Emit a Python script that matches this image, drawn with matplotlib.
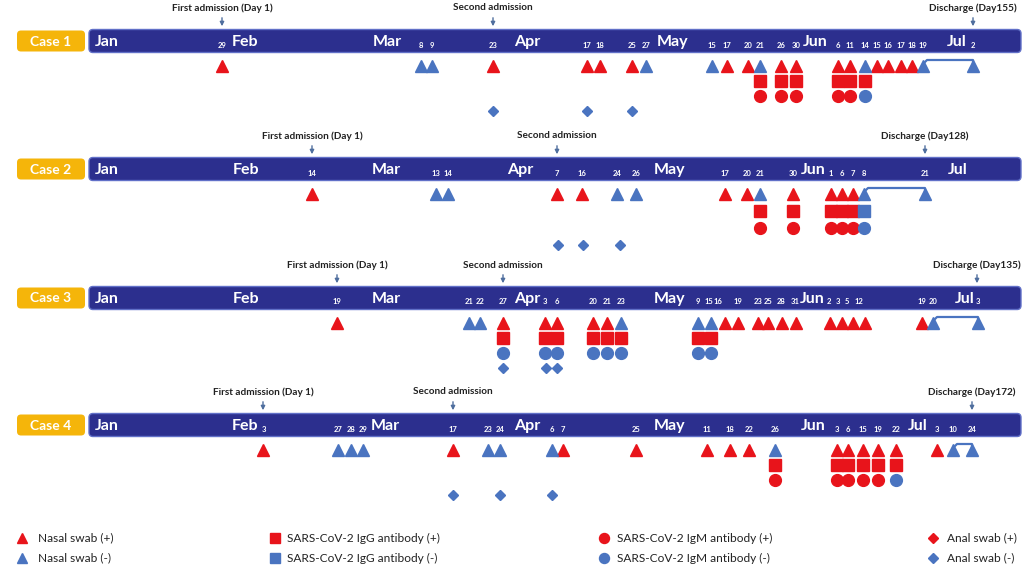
import matplotlib.pyplot as plt
from matplotlib.patches import FancyBboxPatch

plt.rcParams['font.family'] = ['Lato', 'DejaVu Sans']

RED = '#E8141B'
BLUE = '#4A74C0'
NAVY = '#2C2F8E'
GOLD = '#F5B50A'
ARROW = '#4F6E9E'

month_names = ['Jan', 'Feb', 'Mar', 'Apr', 'May', 'Jun', 'Jul']

# schematic timeline positions (axis units = image px)
case1_month_x = [107, 245, 387, 527, 673, 815, 957]
case1_day_labels = ['29', '8', '9', '23', '17', '18', '25', '27', '15', '17', '20', '21', '26', '30',
                    '6', '11', '14', '15', '16', '17', '18', '19', '2']
case1_day_x = [222, 421, 432, 493, 587, 600, 632, 646, 712, 727, 748, 760, 781, 796,
               838, 850, 865, 877, 888, 901, 912, 923, 973]
case1_nasal_pos = [222, 493, 587, 600, 632, 727, 748, 781, 796, 838, 850, 877, 888, 901, 912]
case1_nasal_neg = [421, 432, 646, 712, 760, 865, 923, 973]
case1_igg_pos = [760, 781, 796, 838, 850, 865]
case1_igg_neg = []
case1_igm_pos = [760, 781, 796, 838, 850]
case1_igm_neg = [865]
case1_anal_pos = []
case1_anal_neg = [493, 587, 632]
case1_admit = [222, 493, 973]
case1_bracket = [923, 973]
case1_discharge = 'Discharge (Day155)'

case2_month_x = [107, 246, 386, 520, 670, 813, 958]
case2_day_labels = ['14', '13', '14', '7', '16', '24', '26', '17', '20', '21', '30',
                    '1', '6', '7', '8', '21']
case2_day_x = [312, 436, 448, 557, 582, 617, 636, 725, 747, 760, 793, 831, 842, 853, 864, 925]
case2_nasal_pos = [312, 557, 582, 725, 747, 793, 831, 842, 853]
case2_nasal_neg = [436, 448, 617, 636, 760, 864, 925]
case2_igg_pos = [760, 793, 831, 842, 853]
case2_igg_neg = [864]
case2_igm_pos = [760, 793, 831, 842, 853]
case2_igm_neg = [864]
case2_anal_pos = []
case2_anal_neg = [558, 583, 620]
case2_admit = [312, 557, 925]
case2_bracket = [864, 925]
case2_discharge = 'Discharge (Day128)'

case3_month_x = [107, 246, 386, 527, 670, 812, 965]
case3_day_labels = ['19', '21', '22', '27', '3', '6', '20', '21', '23', '9', '15', '16', '19',
                    '23', '25', '28', '31', '2', '3', '5', '12', '19', '20', '3']
case3_day_x = [337, 469, 480, 503, 545, 557, 593, 607, 621, 698, 709, 718, 738,
               758, 768, 781, 795, 829, 838, 847, 859, 922, 933, 978]
case3_nasal_pos = [337, 503, 545, 557, 593, 607, 725, 738, 758, 768, 782, 796,
                   830, 842, 853, 865, 922]
case3_nasal_neg = [469, 480, 621, 698, 711, 933, 978]
case3_igg_pos = [503, 545, 557, 593, 607, 621, 698, 711]
case3_igg_neg = []
case3_igm_pos = []
case3_igm_neg = [503, 545, 557, 593, 607, 621, 698, 711]
case3_anal_pos = []
case3_anal_neg = [503, 546, 557]
case3_admit = [337, 503, 977]
case3_bracket = [933, 978]
case3_discharge = 'Discharge (Day135)'

case4_month_x = [107, 245, 385, 527, 670, 813, 918]
case4_day_labels = ['3', '27', '28', '29', '17', '23', '24', '6', '7', '25', '11', '18', '22',
                    '26', '3', '6', '15', '19', '22', '3', '10', '24']
case4_day_x = [264, 338, 351, 363, 453, 488, 500, 552, 563, 636, 707, 730, 749,
               775, 837, 848, 863, 878, 896, 937, 953, 972]
case4_nasal_pos = [263, 453, 563, 636, 707, 730, 749, 837, 848, 863, 878, 896, 937]
case4_nasal_neg = [338, 351, 363, 488, 500, 552, 775, 953, 972]
case4_igg_pos = [775, 837, 848, 863, 878, 896]
case4_igg_neg = []
case4_igm_pos = [775, 837, 848, 863, 878]
case4_igm_neg = [896]
case4_anal_pos = []
case4_anal_neg = [453, 500, 552]
case4_admit = [263, 453, 972]
case4_bracket = [953, 972]
case4_discharge = 'Discharge (Day172)'

case_names = ['Case 1', 'Case 2', 'Case 3', 'Case 4']
case_bar_y = [41, 169, 298, 425]
case_row_step = [15, 17, 15, 15]

cases = [
    (case1_month_x, case1_day_labels, case1_day_x, case1_nasal_pos, case1_nasal_neg, case1_igg_pos,
     case1_igg_neg, case1_igm_pos, case1_igm_neg, case1_anal_pos, case1_anal_neg, case1_admit,
     case1_bracket, case1_discharge),
    (case2_month_x, case2_day_labels, case2_day_x, case2_nasal_pos, case2_nasal_neg, case2_igg_pos,
     case2_igg_neg, case2_igm_pos, case2_igm_neg, case2_anal_pos, case2_anal_neg, case2_admit,
     case2_bracket, case2_discharge),
    (case3_month_x, case3_day_labels, case3_day_x, case3_nasal_pos, case3_nasal_neg, case3_igg_pos,
     case3_igg_neg, case3_igm_pos, case3_igm_neg, case3_anal_pos, case3_anal_neg, case3_admit,
     case3_bracket, case3_discharge),
    (case4_month_x, case4_day_labels, case4_day_x, case4_nasal_pos, case4_nasal_neg, case4_igg_pos,
     case4_igg_neg, case4_igm_pos, case4_igm_neg, case4_anal_pos, case4_anal_neg, case4_admit,
     case4_bracket, case4_discharge),
]

fig = plt.figure(figsize=(10.31, 5.87), dpi=100)
ax = fig.add_axes([0, 0, 1, 1])
ax.set_xlim(0, 1031)
ax.set_ylim(587, 0)
ax.axis('off')

ms_tri, ms_sq, ms_circ, ms_dia = 8.5, 8.5, 8.5, 5.5

for name, yc, step, c in zip(case_names, case_bar_y, case_row_step, cases):
    (month_x, day_labels, day_x, nasal_pos, nasal_neg, igg_pos, igg_neg,
     igm_pos, igm_neg, anal_pos, anal_neg, admit, bracket, discharge) = c

    # timeline bar and case tag
    ax.add_patch(FancyBboxPatch((89, yc - 11.5), 932, 23, boxstyle='round,pad=0,rounding_size=4',
                                fc=NAVY, ec='#6170C8', lw=1))
    ax.add_patch(FancyBboxPatch((17, yc - 10.5), 68, 21, boxstyle='round,pad=0,rounding_size=4',
                                fc=GOLD, ec='none'))
    ax.text(51, yc + 0.5, name, color='white', fontsize=10, fontweight='bold',
            ha='center', va='center')

    for m, x in zip(month_names, month_x):
        ax.text(x, yc + 1, m, color='white', fontsize=11.5, fontweight='bold',
                ha='center', va='center')
    for d, x in zip(day_labels, day_x):
        ax.text(x, yc + 4, d, color='white', fontsize=5.5, fontweight='bold',
                ha='center', va='center')

    # admissions / discharge
    labels = ['First admission (Day 1)', 'Second admission', discharge]
    for lab, x in zip(labels, admit):
        ax.text(x, yc - 33, lab, fontsize=7.2, fontweight='bold', color='#222222',
                ha='center', va='center')
        ax.annotate('', xy=(x, yc - 12), xytext=(x, yc - 26),
                    arrowprops=dict(arrowstyle='-|>', color=ARROW, lw=1, mutation_scale=6))

    ty = yc + 25
    ax.plot(nasal_pos, [ty] * len(nasal_pos), '^', color=RED, ms=ms_tri, ls='none')
    ax.plot(nasal_neg, [ty] * len(nasal_neg), '^', color=BLUE, ms=ms_tri, ls='none')
    sy = ty + step
    ax.plot(igg_pos, [sy] * len(igg_pos), 's', color=RED, ms=ms_sq, ls='none')
    ax.plot(igg_neg, [sy] * len(igg_neg), 's', color=BLUE, ms=ms_sq, ls='none')
    cy = sy + step
    ax.plot(igm_pos, [cy] * len(igm_pos), 'o', color=RED, ms=ms_circ, ls='none')
    ax.plot(igm_neg, [cy] * len(igm_neg), 'o', color=BLUE, ms=ms_circ, ls='none')
    dy = cy + step
    ax.plot(anal_pos, [dy] * len(anal_pos), 'D', color=RED, ms=ms_dia, ls='none')
    ax.plot(anal_neg, [dy] * len(anal_neg), 'D', color=BLUE, ms=ms_dia, ls='none')

    # bracket joining the last negative nasal swabs
    bx0, bx1 = bracket
    ax.plot([bx0 + 1, bx0 + 4, bx1, bx1], [ty - 3, ty - 6, ty - 6, ty - 3], color=BLUE, lw=1.6)

# legend
leg_items = [
    ('^', RED, 'Nasal swab (+)', 22, 538), ('^', BLUE, 'Nasal swab (-)', 22, 558),
    ('s', RED, 'SARS-CoV-2 IgG antibody (+)', 275, 538), ('s', BLUE, 'SARS-CoV-2 IgG antibody (-)', 275, 558),
    ('o', RED, 'SARS-CoV-2 IgM antibody (+)', 604, 538), ('o', BLUE, 'SARS-CoV-2 IgM antibody (-)', 604, 558),
    ('D', RED, 'Anal swab (+)', 933, 538), ('D', BLUE, 'Anal swab (-)', 933, 558),
]
leg_ms = {'^': 7, 's': 6.5, 'o': 7.2, 'D': 5}
leg_gap = {'^': 16, 's': 12, 'o': 13, 'D': 14}
for mk, col, lab, x, y in leg_items:
    ax.plot([x], [y], mk, color=col, ms=leg_ms[mk])
    ax.text(x + leg_gap[mk], y, lab, fontsize=8.6, color='#222222', ha='left', va='center')

fig.savefig('out.png', dpi=100)
